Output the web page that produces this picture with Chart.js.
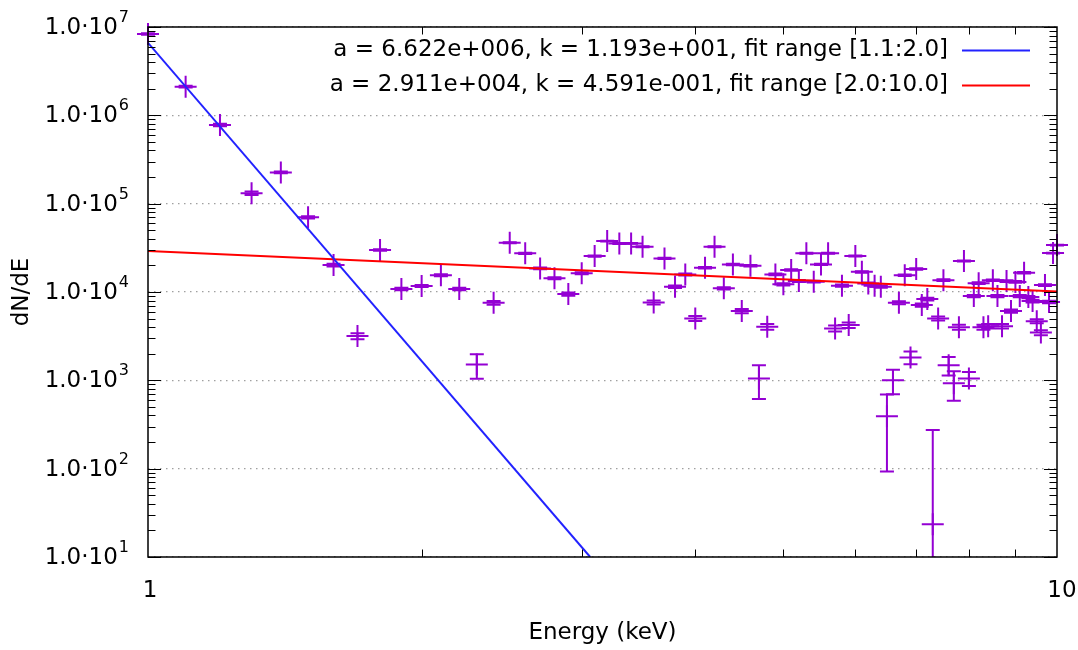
<!DOCTYPE html>
<html>
<head>
<meta charset="utf-8">
<script src="https://cdn.jsdelivr.net/npm/chart.js@4.4.1/dist/chart.umd.min.js"></script>
<style>
  html, body { margin: 0; padding: 0; background: #fff; }
  #wrap { width: 1078px; height: 650px; }
</style>
</head>
<body>
<div id="wrap"><canvas id="spectrum"></canvas></div>
<script>
// measured spectrum, energy in keV
const energy = [
  1.0, 1.1, 1.2, 1.3, 1.4, 1.5, 1.6, 1.7, 1.8, 1.9,
  2.0, 2.1, 2.2, 2.3, 2.4, 2.5, 2.6, 2.7, 2.8, 2.9,
  3.0, 3.1, 3.2, 3.3, 3.4, 3.5, 3.6, 3.7, 3.8, 3.9,
  4.0, 4.1, 4.2, 4.3, 4.4, 4.5, 4.6, 4.7, 4.8, 4.9,
  5.0, 5.1, 5.2, 5.3, 5.4, 5.5, 5.6, 5.7, 5.8, 5.9,
  6.0, 6.1, 6.2, 6.3, 6.4, 6.5, 6.6, 6.7, 6.8, 6.9,
  7.0, 7.1, 7.2, 7.3, 7.4, 7.5, 7.6, 7.7, 7.8, 7.9,
  8.0, 8.1, 8.2, 8.3, 8.4, 8.5, 8.6, 8.7, 8.8, 8.9,
  9.0, 9.1, 9.2, 9.3, 9.4, 9.5, 9.6, 9.7, 9.8, 9.9,
  10.0
];
const dnde = [
  8.33e6, 2.11e6, 7.77e5, 1.31e5, 2.26e5, 7.0e4, 2.02e4, 3170, 2.99e4, 1.08e4,
  1.17e4, 1.55e4, 1.08e4, 1510, 7550, 3.61e4, 2.74e4, 1.85e4, 1.43e4, 9470,
  1.63e4, 2.55e4, 3.77e4, 3.55e4, 3.55e4, 3.25e4, 7620, 2.40e4, 1.15e4, 1.58e4,
  5020, 1.88e4, 3.25e4, 1.10e4, 2.05e4, 6080, 1.98e4, 1050, 4040, 1.58e4,
  1.22e4, 1.77e4, 1.33e4, 2.74e4, 1.31e4, 2.05e4, 2.74e4, 3870, 1.18e4, 4220,
  2.55e4, 1.69e4, 1.25e4, 1.18e4, 1.15e4, 393, 1005, 7550, 1.55e4, 1816,
  1.82e4, 7110, 8320, 23.5, 5020, 1.36e4, 1486, 929, 4000, 2.24e4,
  1050, 8990, 1.26e4, 4000, 4100, 1.36e4, 8990, 4100, 1.33e4, 6080,
  1.30e4, 8990, 1.65e4, 8770, 7890, 4680, 3470, 1.20e4, 7690, 2.76e4,
  3.40e4
];
const dndeErr = [
  1.5e5, 5e4, 2.5e4, 6000, 5000, 2000, 700, 250, 500, 350,
  320, 400, 350, 470, 380, 480, 450, 420, 400, 380,
  400, 420, 450, 450, 440, 430, 380, 400, 380, 380,
  330, 380, 420, 350, 380, 330, 370, 435, 300, 350,
  330, 350, 330, 370, 330, 350, 360, 300, 320, 300,
  350, 330, 320, 310, 310, 300, 310, 290, 320, 300,
  320, 280, 290, 250, 270, 300, 350, 340, 260, 320,
  190, 280, 290, 250, 250, 290, 270, 250, 280, 250,
  280, 260, 290, 260, 260, 240, 230, 270, 250, 300,
  320
];

// power-law fits, end points
const fitLabels = [
  'a = 6.622e+006, k = 1.193e+001, fit range [1.1:2.0]',
  'a = 2.911e+004, k = 4.591e-001, fit range [2.0:10.0]'
];
const fit1E = [1.0, 3.065];
const fit1Y = [6.622e6, 10];
const fit2E = [1.0, 10.0];
const fit2Y = [2.911e4, 1.011e4];

// axes
const xTicks = [1, 10];
const xTickLabels = ['1', '10'];
const xMinor = [2, 3, 4, 5, 6, 7, 8, 9];
const yDecades = [1e1, 1e2, 1e3, 1e4, 1e5, 1e6, 1e7];
const yMinorMult = [2, 3, 4, 5, 6, 7, 8, 9];

const FONT = '"DejaVu Sans", sans-serif';
const PURPLE = '#9400d3';

Chart.defaults.font.family = FONT;
Chart.defaults.color = '#000';

const errorBars = {
  id: 'errorBars',
  beforeDatasetsDraw(chart) {
    const {ctx, chartArea: a, scales: {x, y}} = chart;
    ctx.save();
    ctx.beginPath();
    ctx.rect(0, a.top, chart.width, a.bottom - a.top);
    ctx.clip();
    ctx.strokeStyle = PURPLE;
    ctx.lineWidth = 2;
    const cap = 7;
    energy.forEach((e, i) => {
      const px = x.getPixelForValue(e);
      const hi = y.getPixelForValue(dnde[i] + dndeErr[i]);
      const lowVal = dnde[i] - dndeErr[i];
      const lo = lowVal > 0 ? y.getPixelForValue(lowVal) : a.bottom + 20;
      ctx.beginPath();
      ctx.moveTo(px, hi);
      ctx.lineTo(px, lo);
      ctx.moveTo(px - cap, hi);
      ctx.lineTo(px + cap, hi);
      if (lowVal > 0) {
        ctx.moveTo(px - cap, lo);
        ctx.lineTo(px + cap, lo);
      }
      ctx.stroke();
    });
    ctx.restore();
  }
};

const frame = {
  id: 'frame',
  afterDraw(chart) {
    const {ctx, chartArea: a, scales: {x, y}} = chart;
    ctx.save();
    ctx.strokeStyle = '#000';
    ctx.lineWidth = 1;
    ctx.beginPath();
    // y ticks, inside, both sides
    yDecades.forEach((d, i) => {
      const py = Math.round(y.getPixelForValue(d)) + 0.5;
      ctx.moveTo(a.left, py); ctx.lineTo(a.left + 13, py);
      ctx.moveTo(a.right, py); ctx.lineTo(a.right - 13, py);
      if (i < yDecades.length - 1) {
        yMinorMult.forEach(m => {
          const pm = Math.round(y.getPixelForValue(d * m)) + 0.5;
          ctx.moveTo(a.left, pm); ctx.lineTo(a.left + 7.5, pm);
          ctx.moveTo(a.right, pm); ctx.lineTo(a.right - 7.5, pm);
        });
      }
    });
    // x minor ticks, bottom and top
    xMinor.forEach(v => {
      const px = Math.round(x.getPixelForValue(v)) + 0.5;
      ctx.moveTo(px, a.bottom); ctx.lineTo(px, a.bottom - 7.5);
      ctx.moveTo(px, a.top); ctx.lineTo(px, a.top + 7.5);
    });
    ctx.stroke();
    ctx.lineWidth = 1.5;
    ctx.strokeRect(a.left, a.top, a.right - a.left, a.bottom - a.top);

    ctx.fillStyle = '#000';
    ctx.textBaseline = 'middle';

    // x tick labels
    ctx.font = '23px ' + FONT;
    ctx.textAlign = 'center';
    xTicks.forEach((v, i) => {
      ctx.fillText(xTickLabels[i], x.getPixelForValue(v) + (i ? 5 : 2), 591);
    });

    // y tick labels with superscript exponent
    yDecades.forEach(d => {
      const py = y.getPixelForValue(d);
      const exp = String(Math.round(Math.log10(d)));
      ctx.font = '16px ' + FONT;
      const ew = ctx.measureText(exp).width;
      const right = 129;
      ctx.textAlign = 'left';
      ctx.fillText(exp, right - ew, py - 9);
      ctx.font = '23px ' + FONT;
      ctx.textAlign = 'right';
      ctx.fillText('1.0\u00b710', right - ew - 1, py + 1);
    });

    // key, top right
    const rows = [50, 85];
    chart.data.datasets.slice(0, 2).forEach((ds, i) => {
      ctx.font = '23px ' + FONT;
      ctx.textAlign = 'right';
      ctx.fillText(ds.label, 948, rows[i]);
      ctx.strokeStyle = ds.borderColor;
      ctx.lineWidth = 2;
      ctx.beginPath();
      ctx.moveTo(962, rows[i] + 0.5);
      ctx.lineTo(1030, rows[i] + 0.5);
      ctx.stroke();
    });
    ctx.restore();
  }
};

new Chart(document.getElementById('spectrum'), {
  type: 'scatter',
  data: {
    datasets: [
      {
        label: fitLabels[0],
        data: fit1E.map((e, i) => ({x: e, y: fit1Y[i]})),
        showLine: true,
        borderColor: '#2222ff',
        borderWidth: 2,
        pointRadius: 0
      },
      {
        label: fitLabels[1],
        data: fit2E.map((e, i) => ({x: e, y: fit2Y[i]})),
        showLine: true,
        borderColor: '#ff0000',
        borderWidth: 2,
        pointRadius: 0
      },
      {
        label: 'data',
        data: energy.map((e, i) => ({x: e, y: dnde[i]})),
        pointStyle: 'cross',
        pointRadius: 11,
        borderColor: PURPLE,
        borderWidth: 2,
        clip: false
      }
    ]
  },
  options: {
    animation: false,
    responsive: true,
    maintainAspectRatio: false,
    layout: { padding: { left: 0, right: 21, top: 27, bottom: 0 } },
    plugins: {
      legend: { display: false },
      tooltip: { enabled: false }
    },
    scales: {
      x: {
        type: 'logarithmic',
        min: 1,
        max: 10,
        afterBuildTicks: s => { s.ticks = xTicks.map(v => ({value: v})); },
        afterFit: s => { s.height = 93; },
        grid: { display: false, drawTicks: false },
        border: { display: false },
        ticks: { display: false },
        title: {
          display: true,
          text: 'Energy (keV)',
          font: { size: 23 },
          padding: { top: 0, bottom: 3 }
        }
      },
      y: {
        type: 'logarithmic',
        min: 10,
        max: 1e7,
        afterBuildTicks: s => { s.ticks = yDecades.map(v => ({value: v})); },
        afterFit: s => { s.width = 148; },
        grid: { color: '#a0a0a0', lineWidth: 1.2, drawTicks: false },
        border: { display: false, dash: [1.5, 4.5] },
        ticks: { display: false },
        title: {
          display: true,
          text: 'dN/dE',
          font: { size: 23 },
          padding: { top: 8, bottom: 0 }
        }
      }
    }
  },
  plugins: [errorBars, frame]
});
</script>
</body>
</html>
